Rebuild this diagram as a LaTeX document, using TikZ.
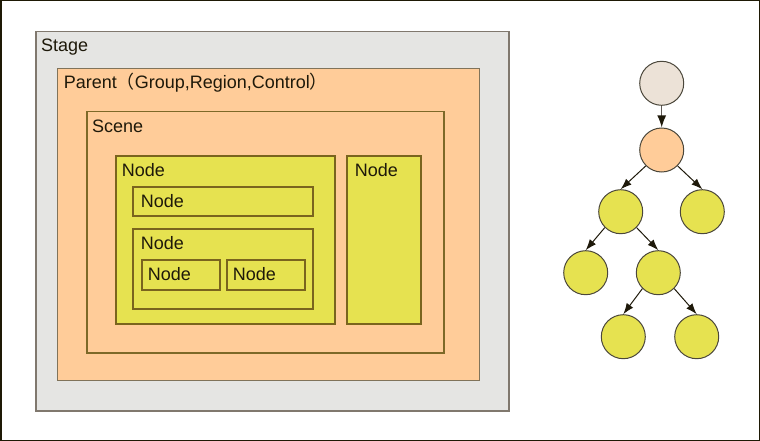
\documentclass[tikz,border=0pt]{standalone}
\usepackage{fontspec}
\setmainfont{Liberation Sans}
\newfontfamily\cjk{Noto Sans CJK JP}
\usetikzlibrary{positioning,arrows.meta}

\definecolor{framedark}{RGB}{30,25,5}
\definecolor{txtdark}{RGB}{30,25,10}
\definecolor{stagefill}{RGB}{229,229,227}
\definecolor{stageline}{RGB}{128,120,110}
\definecolor{parentfill}{RGB}{255,204,153}
\definecolor{parentline}{RGB}{128,115,90}
\definecolor{sceneline}{RGB}{125,105,40}
\definecolor{nodefill}{RGB}{230,226,80}
\definecolor{nodeline}{RGB}{122,100,30}
\definecolor{rootfill}{RGB}{236,226,215}
\definecolor{shaftgray}{RGB}{95,90,85}

\tikzset{
  box/.style={draw, anchor=north west, inner sep=0pt, line width=1.5pt},
  nodebox/.style={box, draw=nodeline, fill=nodefill, line width=1.8pt},
  lbl/.style={anchor=base west, inner sep=0pt, text=txtdark, font=\fontsize{18}{21}\selectfont},
  ball/.style={circle, draw=txtdark!80, line width=1pt, minimum size=44pt, inner sep=0pt, fill=nodefill},
  link/.style={-{Latex[length=11pt,width=8pt]}, draw=txtdark, line width=1pt},
}

\begin{document}
\begin{tikzpicture}[x=1pt,y=-1pt]
	\useasboundingbox (0,0) rectangle (760,441);
	\draw[framedark, line width=1.5pt] (0.75,0.75) rectangle (759.25,440.25);

	% nested containers
	\node[box, draw=stageline, fill=stagefill, minimum width=473pt, minimum height=379pt] (stage) at (35,31) {};
	\node[box, draw=parentline, fill=parentfill, line width=1.2pt, minimum width=422pt, minimum height=312pt] (parent) at (57,68) {};
	\node[box, draw=sceneline, fill=parentfill, minimum width=357pt, minimum height=241pt] (scene) at (86,111) {};
	\node[nodebox, minimum width=219pt, minimum height=168pt] (nodeA) at (115,155) {};
	\node[nodebox, minimum width=74pt, minimum height=168pt] (nodeB) at (346,155) {};
	\node[nodebox, minimum width=180pt, minimum height=29pt] (nodeA1) at (132,186) {};
	\node[nodebox, minimum width=180pt, minimum height=80pt] (nodeA2) at (132,228) {};
	\node[nodebox, minimum width=78pt, minimum height=30pt] (leafL) at (141,259) {};
	\node[nodebox, minimum width=78pt, minimum height=30pt] (leafR) at (226,259) {};

	\node[lbl] (stagelbl) at ([shift={(6,21)}]stage.north west) {Stage};
	\node[lbl] (parentlbl) at ([shift={(6.6,21)}]parent.north west) {Parent{\cjk （}Group,Region,Control{\cjk ）}};
	\node[lbl] (scenelbl) at ([shift={(6,21)}]scene.north west) {Scene};
	\node[lbl] (nodeAlbl) at ([shift={(6.6,21)}]nodeA.north west) {Node};
	\node[lbl] (nodeBlbl) at ([shift={(8.6,21)}]nodeB.north west) {Node};
	\node[lbl] (nodeA1lbl) at ([shift={(8.6,21)}]nodeA1.north west) {Node};
	\node[lbl] (nodeA2lbl) at ([shift={(8.6,21)}]nodeA2.north west) {Node};
	\node[lbl] (leafLlbl) at ([shift={(6.6,21)}]leafL.north west) {Node};
	\node[lbl] (leafRlbl) at ([shift={(6.6,21)}]leafR.north west) {Node};

	% scene graph tree
	\node[ball, fill=rootfill] (root) at (661.7,83.3) {};
	\node[ball, fill=parentfill] (top) at (661.7,150) {};
	\node[ball] (midL) at (620.7,211.7) {};
	\node[ball] (midR) at (702.3,211.7) {};
	\node[ball] (lowL) at (585.7,272.7) {};
	\node[ball] (lowR) at (658.3,272.7) {};
	\node[ball] (botL) at (623.3,336.7) {};
	\node[ball] (botR) at (696.7,336.7) {};

	\draw[link, draw=shaftgray, line width=1.5pt, -{Latex[length=12pt,width=9pt,color=txtdark]}] (root) -- (top);
	\draw[link] (top.south west) -- (midL.north);
	\draw[link] (top.south east) -- (midR.north);
	\draw[link] (midL.south west) -- (lowL.north);
	\draw[link] (midL.south east) -- (lowR.north);
	\draw[link] (lowR.south west) -- (botL.north);
	\draw[link] (lowR.south east) -- (botR.north);
\end{tikzpicture}
\end{document}
